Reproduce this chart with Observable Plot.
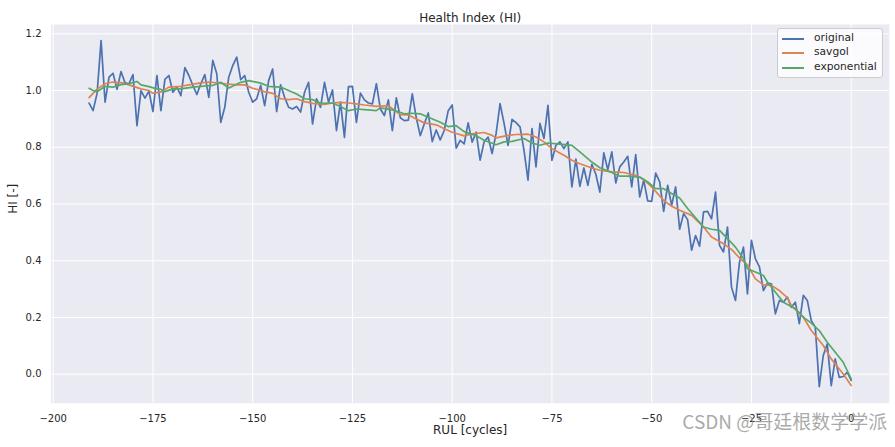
<!DOCTYPE html>
<html>
<head>
<meta charset="utf-8">
<script src="https://cdn.jsdelivr.net/npm/d3@7"></script>
<script src="https://cdn.jsdelivr.net/npm/@observablehq/plot@0.6"></script>
<style>
  body { margin: 0; background: #ffffff; }
  #wrap { position: relative; width: 895px; height: 447px; font-family: "DejaVu Sans", sans-serif; }
  .legend { position: absolute; left: 777px; top: 28px; width: 106px; height: 50px; box-sizing: border-box;
            background: rgba(255,255,255,0.8); border: 1px solid #cccccc; border-radius: 3px; }
  .legend .sw { position: absolute; left: 4px; width: 22px; height: 1.7px; }
  .legend .lb { position: absolute; left: 36px; font-size: 10.7px; line-height: 12px; color: #262626; white-space: nowrap; }
</style>
</head>
<body>
<div id="wrap"></div>
<script>
const title = "Health Index (HI)";
const xLabel = "RUL [cycles]";
const yLabel = "HI [-]";
const watermark = "CSDN @哥廷根数学学派";
const seriesNames = ["original", "savgol", "exponential"];
const seriesColors = ["#4C72B0", "#DD8452", "#55A868"];
const xTicks = [-200, -175, -150, -125, -100, -75, -50, -25, 0];
const yTicks = [0.0, 0.2, 0.4, 0.6, 0.8, 1.0, 1.2];

// RUL cycles -191 .. 0
const rul = d3.range(-191, 1);
const original = [
  0.956, 0.929, 0.99, 1.176, 0.959, 1.047, 1.061, 1.004, 1.067, 1.027, 1.024, 1.056, 0.876, 1.0, 0.973, 0.998, 0.926, 1.053, 0.929, 1.039, 1.053, 0.994, 1.012, 0.982, 1.081, 1.053, 1.018, 0.986, 1.024, 1.056, 0.976, 1.106, 1.059, 0.888,
  0.941, 1.047, 1.088, 1.118, 1.038, 1.053, 0.994, 0.959, 0.971, 1.018, 0.947, 1.035, 1.076, 0.926, 1.02, 0.976, 0.941, 0.935, 0.944, 0.924, 0.994, 1.029, 0.882, 0.971, 0.941, 1.029, 0.959, 1.002, 0.859, 0.959, 0.835, 1.014,
  1.015, 0.888, 0.991, 0.967, 0.956, 0.953, 1.024, 0.935, 0.912, 0.967, 0.859, 0.974, 0.904, 0.894, 0.896, 0.988, 0.904, 0.841, 0.882, 0.921, 0.82, 0.861, 0.826, 0.859, 0.929, 0.949, 0.797, 0.824, 0.812, 0.886, 0.818, 0.853, 0.755,
  0.819, 0.836, 0.778, 0.848, 0.954, 0.884, 0.807, 0.898, 0.887, 0.872, 0.789, 0.684, 0.866, 0.731, 0.884, 0.831, 0.948, 0.754, 0.807, 0.819, 0.795, 0.819, 0.66, 0.758, 0.662, 0.727, 0.666, 0.74, 0.705, 0.642, 0.78, 0.721,
  0.784, 0.674, 0.731, 0.748, 0.768, 0.66, 0.774, 0.625, 0.684, 0.611, 0.609, 0.709, 0.678, 0.574, 0.666, 0.595, 0.66, 0.511, 0.566, 0.545, 0.437, 0.489, 0.451, 0.572, 0.574, 0.548, 0.642, 0.454, 0.431, 0.519, 0.307, 0.26,
  0.395, 0.448, 0.283, 0.472, 0.407, 0.378, 0.295, 0.321, 0.319, 0.213, 0.26, 0.254, 0.272, 0.236, 0.254, 0.178, 0.278, 0.26, 0.189, 0.166, -0.044, 0.066, 0.107, -0.04, 0.054, -0.011, -0.008, 0.007, -0.022
];

const savgolX = [-191, -189, -187, -185, -183, -181, -178, -176, -175, -173, -171, -168, -166, -163, -161, -159, -157, -154, -152, -150, -147, -145, -143, -141, -139, -137, -135, -132, -130, -128, -126, -124, -122, -119, -116, -113, -111, -109, -107, -104, -102, -100, -97, -95, -92, -90, -89, -86, -84, -81, -79, -77, -75, -72, -70, -68, -65, -63, -60, -57, -54, -52, -50, -47, -45, -43, -40, -37, -35, -32, -30, -28, -26, -24, -22, -20, -18, -16, -15, -12, -10, -7, -5, -2, 0];
const savgolY = [0.975, 1.005, 1.024, 1.03, 1.028, 1.02, 1.006, 1.0, 0.99, 0.995, 1.012, 1.015, 1.02, 1.027, 1.03, 1.027, 1.024, 1.02, 1.02, 1.008, 0.996, 0.99, 0.971, 0.968, 0.971, 0.961, 0.955, 0.951, 0.956, 0.958, 0.956, 0.953, 0.949, 0.944, 0.947, 0.915, 0.914, 0.9, 0.886, 0.879, 0.865, 0.853, 0.84, 0.847, 0.852, 0.842, 0.833, 0.842, 0.845, 0.846, 0.836, 0.819, 0.795, 0.772, 0.754, 0.742, 0.727, 0.719, 0.713, 0.711, 0.701, 0.686, 0.66, 0.613, 0.592, 0.578, 0.56, 0.519, 0.484, 0.46, 0.44, 0.41, 0.385, 0.336, 0.315, 0.313, 0.295, 0.27, 0.242, 0.201, 0.154, 0.101, 0.054, 0.001, -0.04];

const expX = [-191, -190, -189, -187, -185, -183, -181, -179, -178, -176, -174, -173, -172, -170, -168, -165, -163, -160, -158, -156, -153, -151, -148, -146, -143, -142, -139, -137, -135, -133, -130, -128, -126, -124, -122, -119, -118, -115, -112, -110, -108, -106, -103, -101, -99, -97, -94, -92, -89, -87, -85, -82, -80, -78, -76, -73, -70, -68, -65, -63, -60, -58, -56, -53, -51, -49, -47, -45, -43, -41, -37, -35, -33, -31, -29, -27, -26, -24, -22, -21, -19, -17, -14, -12, -10, -8, -6, -5, -2, 0];
const expY = [1.008, 1.0, 0.996, 1.015, 1.012, 1.021, 1.024, 1.032, 1.02, 1.014, 1.006, 1.004, 0.996, 1.006, 1.006, 1.012, 1.015, 1.018, 1.029, 1.009, 1.029, 1.035, 1.026, 1.015, 1.012, 1.006, 0.988, 0.971, 0.968, 0.955, 0.956, 0.944, 0.929, 0.935, 0.933, 0.929, 0.939, 0.932, 0.918, 0.92, 0.918, 0.906, 0.888, 0.873, 0.876, 0.855, 0.841, 0.825, 0.809, 0.819, 0.821, 0.831, 0.815, 0.807, 0.815, 0.811, 0.807, 0.784, 0.748, 0.728, 0.711, 0.698, 0.698, 0.695, 0.678, 0.654, 0.654, 0.637, 0.621, 0.584, 0.519, 0.511, 0.507, 0.478, 0.448, 0.407, 0.372, 0.36, 0.348, 0.325, 0.289, 0.254, 0.231, 0.201, 0.18, 0.154, 0.113, 0.095, 0.042, -0.016];

const origData = rul.map((x, i) => ({x, y: original[i]}));
const savData = savgolX.map((x, i) => ({x, y: savgolY[i]}));
const expData = expX.map((x, i) => ({x, y: expY[i]}));

const chart = Plot.plot({
  width: 895, height: 447,
  marginLeft: 50.5, marginRight: 6.2, marginTop: 24, marginBottom: 44.3,
  style: {fontFamily: "DejaVu Sans, sans-serif", fontSize: "10px", color: "#262626", background: "#ffffff", overflow: "visible"},
  x: {domain: [-200.55, 9.55]},
  y: {domain: [-0.1022, 1.2328]},
  marks: [
    Plot.frame({fill: "#EAEAF2", strokeOpacity: 0}),
    Plot.gridX(xTicks, {stroke: "#ffffff", strokeOpacity: 1, strokeWidth: 1}),
    Plot.gridY(yTicks, {stroke: "#ffffff", strokeOpacity: 1, strokeWidth: 1}),
    Plot.axisX(xTicks, {tickSize: 0, tickPadding: 11.5, label: null, tickFormat: d3.format("d")}),
    Plot.axisY(yTicks, {tickSize: 0, tickPadding: 9.5, label: null, tickFormat: d3.format(".1f")}),
    Plot.line(origData, {x: "x", y: "y", stroke: seriesColors[0], strokeWidth: 1.7}),
    Plot.line(savData, {x: "x", y: "y", stroke: seriesColors[1], strokeWidth: 1.7}),
    Plot.line(expData, {x: "x", y: "y", stroke: seriesColors[2], strokeWidth: 1.7}),
    Plot.text([title], {frameAnchor: "top", dy: -11, fontSize: 12, text: d => d}),
    Plot.text([xLabel], {frameAnchor: "bottom", dy: 31, fontSize: 12, text: d => d}),
    Plot.text([yLabel], {frameAnchor: "left", dx: -38, rotate: -90, fontSize: 12, text: d => d}),
    Plot.text([watermark], {frameAnchor: "bottom-right", dx: -2, dy: 25.5, textAnchor: "end", fontSize: 19, fill: "#9a9a9a", fillOpacity: 0.85, fontFamily: "Noto Sans CJK SC", text: d => d})
  ]
});

const wrap = document.getElementById("wrap");
wrap.appendChild(chart);

const legend = document.createElement("div");
legend.className = "legend";
const rowTops = [9.7, 24.2, 39.3];
seriesNames.forEach((name, i) => {
  const sw = document.createElement("div");
  sw.className = "sw";
  sw.style.top = (rowTops[i] - 0.85) + "px";
  sw.style.background = seriesColors[i];
  legend.appendChild(sw);
  const lb = document.createElement("div");
  lb.className = "lb";
  lb.style.top = (rowTops[i] - 7) + "px";
  lb.textContent = name;
  legend.appendChild(lb);
});
wrap.appendChild(legend);
</script>
</body>
</html>
